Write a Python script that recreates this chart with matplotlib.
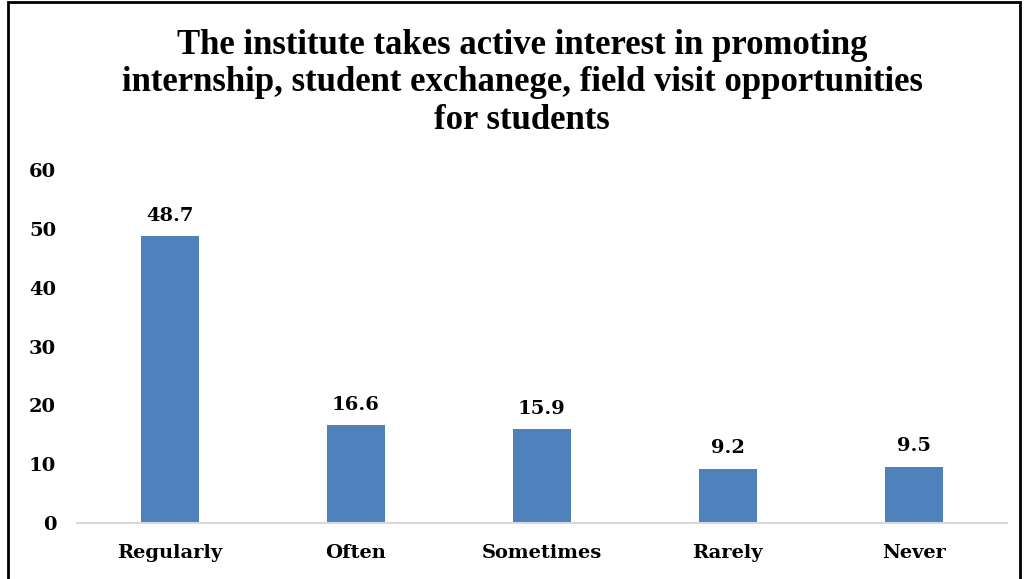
import matplotlib.pyplot as plt
from matplotlib.patches import Rectangle

categories = ["Regularly", "Often", "Sometimes", "Rarely", "Never"]
values = [48.7, 16.6, 15.9, 9.2, 9.5]
yticks = [0, 10, 20, 30, 40, 50, 60]
title = ("The institute takes active interest in promoting\n"
         "internship, student exchanege, field visit opportunities\n"
         "for students")

plt.rcParams['font.family'] = ['DejaVu Serif']
plt.rcParams['font.weight'] = 'bold'

fig = plt.figure(figsize=(10.24, 5.79), dpi=100)
ax = fig.add_axes([0.0752, 0.0967, 0.908, 0.6097])

x = range(len(categories))
bars = ax.bar(x, values, width=0.31, color='#4F81BD', zorder=2)

for xi, v in zip(x, values):
    ax.text(xi, v + 2.0, f'{v}', ha='center', va='bottom', fontsize=14, fontweight='bold')

ax.set_xlim(-0.5, len(categories) - 0.5)
ax.set_ylim(0, 60)
ax.set_yticks(yticks)
ax.set_xticks(list(x))
ax.set_xticklabels(categories, fontsize=14, fontweight='bold')
ax.set_yticklabels([str(t) for t in yticks], fontsize=14, fontweight='bold')
ax.tick_params(axis='both', length=0)
ax.tick_params(axis='y', pad=15)
ax.tick_params(axis='x', pad=15)

for side in ['top', 'right', 'left']:
    ax.spines[side].set_visible(False)
ax.spines['bottom'].set_color('#d9d9d9')
ax.spines['bottom'].set_linewidth(1.5)

fig.text(0.51, 0.857, title, ha='center', va='center', fontsize=25,
         fontweight='bold', linespacing=1.18, family='Liberation Serif')

# frame around the chart
fig.patches.append(Rectangle((0.008, -0.02), 0.988, 1.016, transform=fig.transFigure,
                             fill=False, edgecolor='black', linewidth=2))

fig.savefig('out.png', dpi=100)
